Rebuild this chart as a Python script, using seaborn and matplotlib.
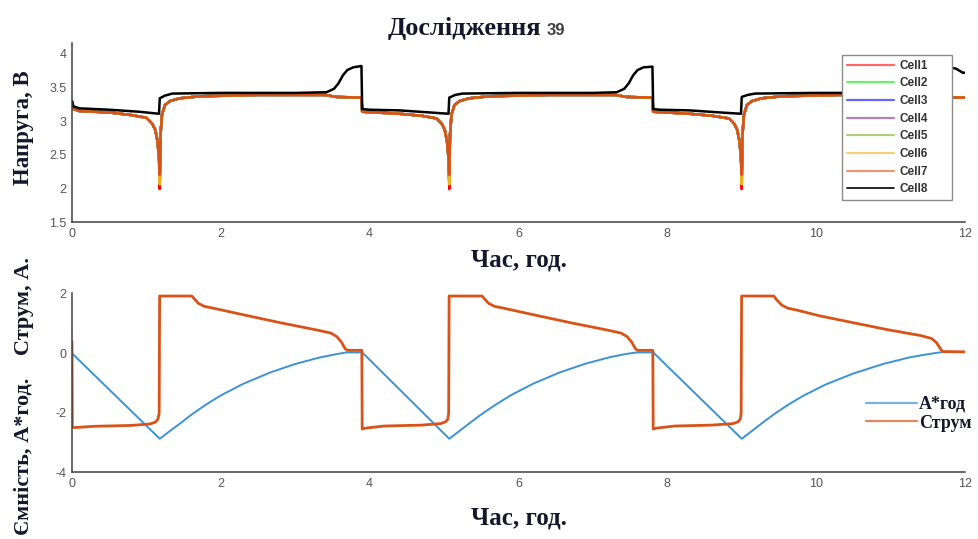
import numpy as np
import pandas as pd
import matplotlib
matplotlib.use("Agg")
import matplotlib.pyplot as plt
from matplotlib.lines import Line2D
from matplotlib.font_manager import FontProperties
import seaborn as sns

# ---- cell voltages, V ----
# Cell8 trace
t_cell8 = [0.00, 0.02, 0.10, 0.50, 0.90, 1.17, 1.18, 1.25, 1.35, 2.00, 3.00, 3.42, 3.52, 3.58, 3.64, 3.70, 3.78, 3.89,
           3.90, 4.00, 4.40, 4.80, 5.06, 5.07, 5.15, 5.25, 6.00, 7.00, 7.32, 7.42, 7.48, 7.54, 7.60, 7.68, 7.80,
           7.81, 7.90, 8.30, 8.70, 8.99, 9.00, 9.08, 9.18, 10.00, 11.00, 11.35, 11.45, 11.52, 11.58, 11.64, 11.72,
           11.84, 11.88, 11.97, 12.00]
v_cell8 = [3.30, 3.22, 3.19, 3.17, 3.14, 3.11, 3.34, 3.38, 3.41, 3.42, 3.42, 3.43, 3.48, 3.56, 3.68, 3.76, 3.80, 3.82,
           3.18, 3.17, 3.16, 3.13, 3.11, 3.35, 3.39, 3.41, 3.42, 3.42, 3.43, 3.48, 3.56, 3.68, 3.76, 3.80, 3.81,
           3.18, 3.17, 3.16, 3.13, 3.11, 3.36, 3.39, 3.41, 3.42, 3.42, 3.43, 3.48, 3.58, 3.70, 3.78, 3.80,
           3.79, 3.78, 3.72, 3.72]

# common trace of Cell1..Cell7 (Cell7 values at the end-of-discharge dips)
t_cells = [0.00, 0.02, 0.10, 0.50, 0.80, 1.00, 1.08, 1.12, 1.15, 1.17, 1.18, 1.19, 1.21, 1.25, 1.32, 1.45, 1.72,
           2.50, 3.40, 3.55, 3.89,
           3.90, 4.40, 4.70, 4.90, 4.97, 5.01, 5.04, 5.06, 5.07, 5.08, 5.10, 5.14, 5.21, 5.34, 5.61, 6.40, 7.30,
           7.45, 7.80,
           7.81, 8.30, 8.60, 8.83, 8.90, 8.94, 8.97, 8.99, 9.00, 9.01, 9.03, 9.07, 9.14, 9.27, 9.54, 10.30,
           11.20, 11.40, 12.00]
v_cells = [3.29, 3.18, 3.15, 3.13, 3.09, 3.05, 2.96, 2.87, 2.70, 2.45, 2.20, 2.80, 3.10, 3.24, 3.30, 3.34, 3.37,
           3.39, 3.39, 3.36, 3.35,
           3.14, 3.11, 3.08, 3.04, 2.96, 2.87, 2.70, 2.45, 2.20, 2.80, 3.10, 3.24, 3.30, 3.34, 3.37, 3.39, 3.39,
           3.36, 3.35,
           3.14, 3.11, 3.08, 3.04, 2.96, 2.87, 2.70, 2.45, 2.20, 2.80, 3.10, 3.24, 3.30, 3.34, 3.37, 3.39,
           3.39, 3.36, 3.35]
dip_times = [1.18, 5.07, 9.00]
dip_min = [1.99, 2.12, 2.15, 2.10, 2.13, 2.06, 2.20]   # Cell1..Cell7

# ---- capacity, A*h ----
t_cap = [0.00, 1.18, 1.30, 1.45, 1.61, 1.80, 2.00, 2.30, 2.66, 3.00, 3.33, 3.55, 3.69, 3.90,
         5.07, 5.20, 5.35, 5.51, 5.70, 5.90, 6.20, 6.56, 6.90, 7.23, 7.45, 7.59, 7.81,
         9.00, 9.13, 9.28, 9.43, 9.62, 9.82, 10.12, 10.50, 10.90, 11.25, 11.50, 11.69, 12.00]
cap = [0.00, -2.88, -2.65, -2.37, -2.06, -1.73, -1.42, -1.03, -0.65, -0.36, -0.14, -0.03, 0.03, 0.03,
       -2.88, -2.63, -2.34, -2.04, -1.72, -1.41, -1.02, -0.64, -0.35, -0.13, -0.02, 0.03, 0.03,
       -2.88, -2.63, -2.34, -2.06, -1.74, -1.44, -1.06, -0.68, -0.36, -0.14, -0.03, 0.04, 0.04]

# ---- current, A ----
t_cur = [0.00, 0.005, 0.05, 0.30, 0.80, 1.05, 1.12, 1.155, 1.172, 1.178, 1.61, 1.65, 1.70, 1.78, 1.90, 2.30,
         2.80, 3.30, 3.48, 3.56, 3.62, 3.67, 3.70, 3.895,
         3.90, 3.95, 4.20, 4.70, 4.95, 5.02, 5.05, 5.062, 5.068, 5.51, 5.55, 5.60, 5.68, 5.80, 6.20,
         6.70, 7.20, 7.38, 7.46, 7.52, 7.57, 7.60, 7.805,
         7.81, 7.86, 8.10, 8.60, 8.88, 8.95, 8.98, 8.992, 8.998, 9.43, 9.47, 9.54, 9.62, 9.75, 10.05,
         10.50, 10.95, 11.40, 11.55, 11.62, 11.67, 11.70, 12.00]
cur = [0.40, -2.50, -2.50, -2.46, -2.43, -2.38, -2.32, -2.22, -2.02, 1.93, 1.93, 1.82, 1.68, 1.58, 1.52, 1.30,
       1.03, 0.78, 0.68, 0.56, 0.38, 0.16, 0.10, 0.10,
       -2.55, -2.52, -2.45, -2.42, -2.37, -2.31, -2.22, -2.02, 1.93, 1.93, 1.82, 1.68, 1.58, 1.52, 1.30,
       1.03, 0.78, 0.68, 0.56, 0.38, 0.16, 0.10, 0.10,
       -2.55, -2.52, -2.45, -2.42, -2.37, -2.31, -2.22, -2.02, 1.93, 1.93, 1.80, 1.62, 1.52, 1.45, 1.26,
       1.03, 0.80, 0.60, 0.50, 0.35, 0.15, 0.06, 0.05]

cell_names = ["Cell1", "Cell2", "Cell3", "Cell4", "Cell5", "Cell6", "Cell7", "Cell8"]
cell_colors = ["#ff0000", "#00ee00", "#0000ff", "#7e2f8e", "#77ac30", "#edb120", "#d95319", "#000000"]
series_names = ["А*год", "Струм"]
series_colors = ["#3b93d3", "#d95319"]

x_ticks = [0, 2, 4, 6, 8, 10, 12]
v_ticks = [1.5, 2, 2.5, 3, 3.5, 4]
v_tick_labels = ["1.5", "2", "2.5", "3", "3.5", "4"]
i_ticks = [-4, -2, 0, 2]
i_tick_labels = ["-4", "-2", "0", "2"]

# ---- long tables for seaborn ----
t_arr = np.array(t_cells)
is_dip = np.isin(t_arr, dip_times)
frames = []
for name, vmin in zip(cell_names[:7], dip_min):
    v = np.array(v_cells, dtype=float)
    v[is_dip] = vmin
    frames.append(pd.DataFrame({"t": t_arr, "V": v, "cell": name}))
frames.append(pd.DataFrame({"t": t_cell8, "V": v_cell8, "cell": "Cell8"}))
df_v = pd.concat(frames, ignore_index=True)

df_cap = pd.DataFrame({"t": t_cap, "val": cap, "series": series_names[0]})
df_cur = pd.DataFrame({"t": t_cur, "val": cur, "series": series_names[1]})

# ---- style ----
sns.set_theme(style="white")
plt.rcParams["font.family"] = ["Liberation Sans", "DejaVu Sans"]
serif_bold = dict(fontfamily="Liberation Serif", fontweight="bold", color="#16162c")
spine_col = "#404040"

fig = plt.figure(figsize=(9.79, 5.39), dpi=100)
ax1 = fig.add_axes([0.0735, 0.588, 0.9122, 0.332])
ax2 = fig.add_axes([0.0735, 0.1243, 0.9122, 0.332])

sns.lineplot(data=df_v, x="t", y="V", hue="cell", hue_order=cell_names,
             palette=dict(zip(cell_names, cell_colors)), estimator=None, sort=False,
             linewidth=1.8, legend=False, ax=ax1)

sns.lineplot(data=df_cap, x="t", y="val", color=series_colors[0], estimator=None, sort=False,
             linewidth=1.4, legend=False, ax=ax2)
sns.lineplot(data=df_cur, x="t", y="val", color=series_colors[1], estimator=None, sort=False,
             linewidth=2.0, legend=False, ax=ax2)

for ax in (ax1, ax2):
    ax.set_xlim(0, 12)
    ax.set_xticks(x_ticks)
    ax.set_xticklabels([str(x) for x in x_ticks])
    for s in ("top", "right"):
        ax.spines[s].set_visible(False)
    for s in ("left", "bottom"):
        ax.spines[s].set_color(spine_col)
        ax.spines[s].set_linewidth(1.1)
    ax.tick_params(direction="in", length=5, width=1.0, color=spine_col,
                   labelcolor="#555555", labelsize=9, pad=4)
    ax.grid(False)

ax1.set_ylim(1.5, 4.16)
ax1.set_yticks(v_ticks)
ax1.set_yticklabels(v_tick_labels)
ax2.set_ylim(-4, 2.03)
ax2.set_yticks(i_ticks)
ax2.set_yticklabels(i_tick_labels)

ax1.set_ylabel("Напруга, В", fontsize=16.5, **serif_bold)
ax1.yaxis.set_label_coords(-0.043, 0.53)
ax2.set_ylabel("Ємність, А*год.    Струм, А.", fontsize=16, **serif_bold)
ax2.yaxis.set_label_coords(-0.043, 0.422)
ax1.set_xlabel("Час, год.", fontsize=18, **serif_bold)
ax1.xaxis.set_label_coords(0.5, -0.15)
ax2.set_xlabel("Час, год.", fontsize=18, **serif_bold)
ax2.xaxis.set_label_coords(0.5, -0.19)

# title in two parts
fig.text(541 / 979, 1 - 35 / 539, "Дослідження", ha="right", va="baseline", fontsize=19, **serif_bold)
fig.text(547 / 979, 1 - 35 / 539, "39", ha="left", va="baseline", fontsize=12,
         fontfamily="Liberation Sans", fontweight="bold", color="#404040")

# voltage legend
h_cells = [Line2D([0], [0], color=c, lw=1.6, alpha=0.6) for c in cell_colors[:7]] + \
          [Line2D([0], [0], color=cell_colors[7], lw=1.2)]
leg1 = ax1.legend(h_cells, cell_names, loc="upper left",
                  bbox_to_anchor=(842 / 979, 1 - 198 / 539, 110 / 979, 143 / 539),
                  bbox_transform=fig.transFigure, mode="expand", borderaxespad=0,
                  handlelength=4.0, handletextpad=0.45, labelspacing=0.48, borderpad=0.4,
                  fancybox=False, framealpha=1, edgecolor="#8c8c8c",
                  prop=FontProperties(family="Liberation Sans", weight="bold", size=8.5))
leg1.get_frame().set_linewidth(1.0)
for txt in leg1.get_texts():
    txt.set_color("#333333")

# capacity / current legend
h_ser = [Line2D([0], [0], color=c, lw=1.6, alpha=0.7) for c in series_colors]
leg2 = ax2.legend(h_ser, series_names, loc="upper left",
                  bbox_to_anchor=(866 / 979, 1 - 396 / 539), bbox_transform=fig.transFigure,
                  frameon=False, borderpad=0, borderaxespad=0, handlelength=2.8,
                  handletextpad=0.15, labelspacing=0.1,
                  prop=FontProperties(family="Liberation Serif", weight="bold", size=13))
for txt in leg2.get_texts():
    txt.set_color("#16162c")

fig.savefig("out.png", dpi=100)
